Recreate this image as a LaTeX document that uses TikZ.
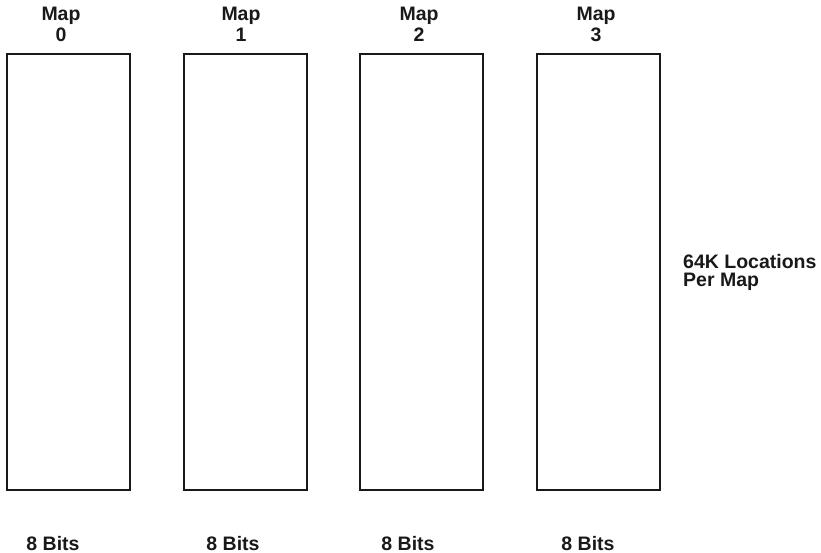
\documentclass[tikz,border=0pt]{standalone}
\usepackage{fontspec}
\setmainfont{Liberation Sans}
\begin{document}
\begin{tikzpicture}[x=1pt,y=-1pt,
  mapbox/.style={draw=black!90,line width=1.9pt,rectangle,inner sep=0pt,minimum width=123pt,minimum height=436pt,anchor=north west},
  lbl/.style={font=\fontsize{19.5}{18}\selectfont\bfseries,inner sep=0pt,anchor=base,text=black!90},
  side/.style={font=\fontsize{19.5}{18}\selectfont\bfseries,inner sep=0pt,anchor=base west,text=black!90}]
\useasboundingbox (0,0) rectangle (821,553);
\node[mapbox] (m0) at (6,53) {};
\node[mapbox] (m1) at (183,53) {};
\node[mapbox] (m2) at (359,53) {};
\node[mapbox] (m3) at (536,53) {};
\node[lbl] (t0a) at (61,21) {Map};
\node[lbl] (t0b) at (61,42) {0};
\node[lbl] (t1a) at (241,21) {Map};
\node[lbl] (t1b) at (241,42) {1};
\node[lbl] (t2a) at (419,21) {Map};
\node[lbl] (t2b) at (419,42) {2};
\node[lbl] (t3a) at (596,21) {Map};
\node[lbl] (t3b) at (596,42) {3};
\node[lbl] (b0) at (53,550) {8 Bits};
\node[lbl] (b1) at (233,550) {8 Bits};
\node[lbl] (b2) at (408,550) {8 Bits};
\node[lbl] (b3) at (588,550) {8 Bits};
\node[side] (s1) at (683,268) {64K Locations};
\node[side] (s2) at (683,286) {Per Map};
\end{tikzpicture}
\end{document}
